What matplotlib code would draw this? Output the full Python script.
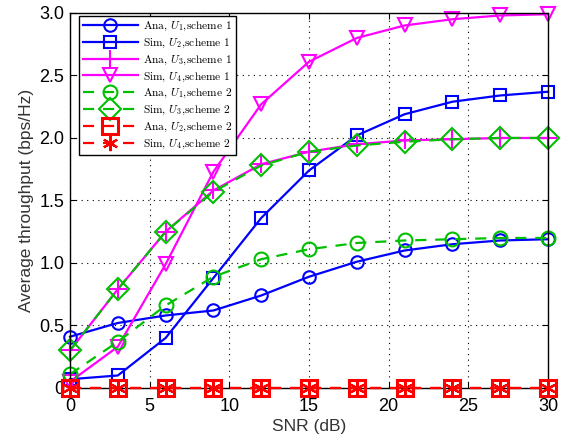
import matplotlib
matplotlib.use('Agg')
import matplotlib.pyplot as plt
import numpy as np

snr = [0, 3, 6, 9, 12, 15, 18, 21, 24, 27, 30]

ana_u1_s1 = [0.41, 0.52, 0.58, 0.62, 0.74, 0.89, 1.01, 1.10, 1.15, 1.18, 1.19]
sim_u2_s1 = [0.07, 0.10, 0.40, 0.88, 1.36, 1.74, 2.02, 2.19, 2.29, 2.34, 2.37]
ana_u3_s1 = [0.30, 0.79, 1.25, 1.58, 1.79, 1.89, 1.95, 1.98, 1.99, 2.00, 2.00]
sim_u4_s1 = [0.05, 0.33, 0.99, 1.73, 2.27, 2.61, 2.80, 2.90, 2.95, 2.98, 2.99]
ana_u1_s2 = [0.11, 0.37, 0.66, 0.89, 1.03, 1.11, 1.16, 1.18, 1.19, 1.20, 1.20]
sim_u3_s2 = [0.30, 0.79, 1.25, 1.57, 1.78, 1.89, 1.94, 1.97, 1.99, 2.00, 2.00]
ana_u2_s2 = [0.0] * 11
sim_u4_s2 = [0.0] * 11

labels = [r'Ana, $U_1$,scheme 1', r'Sim, $U_2$,scheme 1',
          r'Ana, $U_3$,scheme 1', r'Sim, $U_4$,scheme 1',
          r'Ana, $U_1$,scheme 2', r'Sim, $U_3$,scheme 2',
          r'Ana, $U_2$,scheme 2', r'Sim, $U_4$,scheme 2']

yticks = [0, 0.5, 1.0, 1.5, 2.0, 2.5, 3.0]
ytick_labels = ['0', '0.5', '1.0', '1.5', '2.0', '2.5', '3.0']

plt.rcParams['mathtext.fontset'] = 'cm'
plt.rcParams['font.family'] = ['Liberation Sans', 'DejaVu Sans']

blue = '#0000ff'
magenta = '#ff00ff'
green = '#00c000'
red = '#ff0000'

fig = plt.figure(figsize=(5.67, 4.43), dpi=100)
ax = fig.add_axes([0.1235, 0.1242, 0.843, 0.8465])

lw = 1.6
common = dict(lw=lw, clip_on=False, mew=1.5)
ax.plot(snr, ana_u1_s1, '-', color=blue, marker='o', ms=9,
        mfc='none', label=labels[0], **common)
ax.plot(snr, sim_u2_s1, '-', color=blue, marker='s', ms=8,
        mfc='none', label=labels[1], **common)
ax.plot(snr, ana_u3_s1, '-', color=magenta, marker='+', ms=13,
        label=labels[2], **common)
ax.plot(snr, sim_u4_s1, '-', color=magenta, marker='v', ms=10,
        mfc='none', label=labels[3], **common)
ax.plot(snr, ana_u1_s2, '--', color=green, marker='o', ms=10,
        mfc='none', dashes=(5, 4), label=labels[4], **common)
ax.plot(snr, sim_u3_s2, '--', color=green, marker='D', ms=11,
        mfc='none', dashes=(5, 4), label=labels[5], **common)
ax.plot(snr, ana_u2_s2, '--', color=red, marker='s', ms=12, lw=lw,
        mew=2.2, mfc='none', dashes=(5, 4), clip_on=False, zorder=5,
        label=labels[6])
ax.plot(snr, sim_u4_s2, '--', color=red, marker=(6, 2, 0), ms=11, lw=lw,
        mew=1.6, dashes=(5, 4), clip_on=False, zorder=5, label=labels[7])

ax.set_xlim(0, 30)
ax.set_ylim(0, 3.0)
ax.set_xticks([0, 5, 10, 15, 20, 25, 30])
ax.set_yticks(yticks)
ax.set_yticklabels(ytick_labels)
ax.tick_params(direction='in', top=True, right=True, labelsize=13, length=4)
ax.tick_params(axis='x', pad=7)
ax.tick_params(axis='y', pad=4)
ax.grid(True, color='black', linestyle=(0, (1, 4)), linewidth=0.8)
for sp in ax.spines.values():
    sp.set_linewidth(1.0)

ax.set_xlabel('SNR (dB)', fontsize=12.5, color='#333333', labelpad=3)
ax.set_ylabel('Average throughput (bps/Hz)', fontsize=12.5, color='#333333')

leg = ax.legend(loc='upper left', bbox_to_anchor=(0.014, 0.998),
                prop={'family': 'cmr10', 'size': 8.2},
                handlelength=4.8, handletextpad=0.45, fancybox=False,
                framealpha=1, edgecolor='black', borderpad=0.35,
                labelspacing=0.3, borderaxespad=0.2)
leg.get_frame().set_linewidth(1.0)

fig.savefig('out.png', dpi=100)
